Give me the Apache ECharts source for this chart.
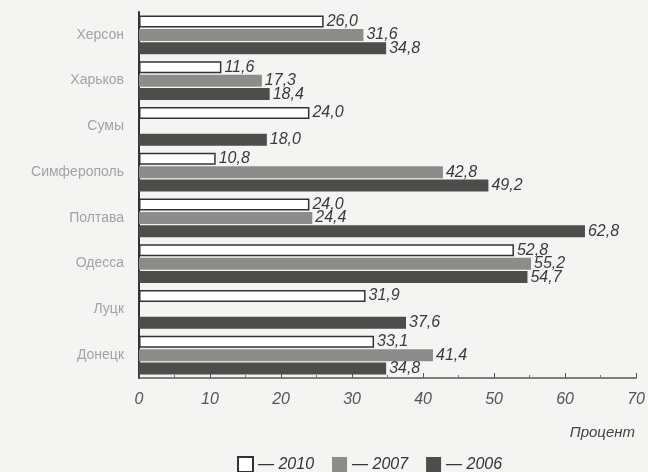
<!DOCTYPE html>
<html><head><meta charset="utf-8">
<script src="https://cdn.jsdelivr.net/npm/echarts@6/dist/echarts.min.js"></script>
<style>html,body{margin:0;padding:0;background:#f4f4f2}#c{width:648px;height:472px}</style>
</head><body><div id="c"></div>
<script>
const categories = ['Херсон','Харьков','Сумы','Симферополь','Полтава','Одесса','Луцк','Донецк'];
const years = ['2010','2007','2006'];
const v2010 = [26.0, 11.6, 24.0, 10.8, 24.0, 52.8, 31.9, 33.1];
const v2007 = [31.6, 17.3, null, 42.8, 24.4, 55.2, null, 41.4];
const v2006 = [34.8, 18.4, 18.0, 49.2, 62.8, 54.7, 37.6, 34.8];
const xTicks = [0,10,20,30,40,50,60,70];

const FONT = "'Liberation Sans Narrow','Liberation Sans',Arial,sans-serif";
const fmt = p => p.value == null ? '' : p.value.toFixed(1).replace('.', ',');
const lbl = {show:true, position:'right', distance:3, formatter:fmt, fontStyle:'italic', fontSize:16, color:'#3a3a3a', fontFamily:FONT};
const styles = [
  {color:'#ffffff', borderColor:'#333', borderWidth:1.5},
  {color:'#8c8c8a'},
  {color:'#4d4d4b'}
];
const data = [v2010, v2007, v2006];
const chart = echarts.init(document.getElementById('c'));
chart.setOption({
  backgroundColor:'#f4f4f2',
  animation:false,
  title:{text:'Процент', right:8, top:420, textStyle:{fontStyle:'italic', fontWeight:'normal', fontSize:15, color:'#444', fontFamily:FONT}},
  legend:{top:451, left:232, itemWidth:15, itemHeight:15, itemGap:18, icon:'rect',
    data: years, formatter: n => '— ' + n,
    textStyle:{fontStyle:'italic', fontSize:16, color:'#333', fontFamily:FONT}},
  grid:{left:139, right:9, top:12, bottom:94, containLabel:false},
  xAxis:{type:'value', min:0, max:70, interval:10,
    axisLine:{show:true, lineStyle:{color:'#555', width:1.5}},
    axisTick:{show:true, inside:true, length:5, lineStyle:{color:'#555'}},
    minorTick:{show:true, splitNumber:2, length:3, lineStyle:{color:'#777'}},
    splitLine:{show:false},
    axisLabel:{fontStyle:'italic', fontSize:16, color:'#555', margin:14, fontFamily:FONT,
      formatter: v => xTicks.includes(v) ? String(v) : ''}},
  yAxis:{type:'category', data:categories, inverse:true,
    axisLine:{show:true, lineStyle:{color:'#333', width:2}},
    axisTick:{show:false},
    axisLabel:{fontSize:14, color:'#a3a3a3', margin:15, fontFamily:FONT}},
  series: years.map((y,i) => ({
    name:y, type:'bar', data:data[i], barWidth:12, barGap:'12%', barCategoryGap:'18%',
    itemStyle:styles[i], label:lbl
  }))
});
</script></body></html>
